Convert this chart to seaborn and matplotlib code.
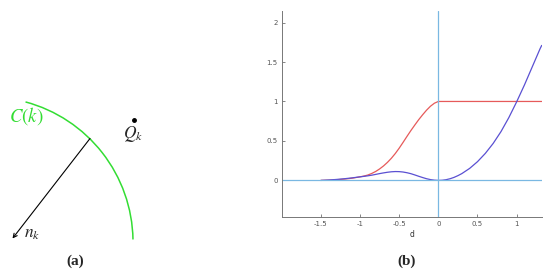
import numpy as np
import pandas as pd
import matplotlib
matplotlib.use("Agg")
import matplotlib.pyplot as plt
import seaborn as sns
from matplotlib.patches import Arc

d = [-1.5, -1.4, -1.3, -1.2, -1.1, -1.0, -0.95, -0.9, -0.85, -0.8, -0.75, -0.7,
     -0.65, -0.6, -0.55, -0.5, -0.45, -0.4, -0.35, -0.3, -0.25, -0.2, -0.15,
     -0.1, -0.05, 0.0, 0.05, 0.1, 0.15, 0.2, 0.25, 0.3, 0.4, 0.5, 0.6, 0.7,
     0.8, 0.9, 1.0, 1.1, 1.2, 1.3, 1.32]
red = [0.0, 0.003, 0.008, 0.016, 0.028, 0.045, 0.055, 0.068, 0.088, 0.113,
       0.145, 0.183, 0.228, 0.28, 0.34, 0.408, 0.482, 0.558, 0.632, 0.702,
       0.77, 0.832, 0.89, 0.94, 0.978, 1.0, 1.0, 1.0, 1.0, 1.0, 1.0, 1.0,
       1.0, 1.0, 1.0, 1.0, 1.0, 1.0, 1.0, 1.0, 1.0, 1.0, 1.0]
blue = [0.0, 0.005, 0.012, 0.021, 0.032, 0.045, 0.051, 0.058, 0.066, 0.076,
        0.086, 0.095, 0.103, 0.109, 0.112, 0.111, 0.106, 0.097, 0.085, 0.069,
        0.052, 0.036, 0.021, 0.010, 0.003, 0.0, 0.002, 0.009, 0.021, 0.038,
        0.06, 0.086, 0.152, 0.237, 0.342, 0.468, 0.618, 0.795, 0.995, 1.21,
        1.44, 1.67, 1.71]

x_ticks = [-1.5, -1, -0.5, 0, 0.5, 1]
x_ticklabels = ["-1.5", "-1", "-0.5", "0", "0.5", "1"]
y_ticks = [0, 0.5, 1, 1.5, 2]
y_ticklabels = ["0", "0.5", "1", "1.5", "2"]

# Skizze (a): Kreisbogen, Normale, Punkt (Pixelkoordinaten)
arc_center = (-12, 242)
arc_radius = 145
arc_theta = (-75, -1)
normal_start = (90, 138.5)
normal_end = (12.5, 238.5)
q_point = (133.5, 119.5)

sns.set_style("white")
plt.rcParams["mathtext.fontset"] = "stix"

fig = plt.figure(figsize=(5.5, 2.75), dpi=100)

#%% Linke Skizze + Bildunterschriften
ax0 = fig.add_axes([0, 0, 1, 1])
ax0.set_xlim(0, 550)
ax0.set_ylim(275, 0)
ax0.axis("off")

green = "#33dd33"
ax0.add_patch(Arc(arc_center, 2 * arc_radius, 2 * arc_radius, theta1=arc_theta[0],
                  theta2=arc_theta[1], color=green, lw=1.1))
ax0.annotate("", xy=normal_end, xytext=normal_start,
             arrowprops=dict(arrowstyle="->", color="black", lw=0.8,
                             shrinkA=0, shrinkB=0, mutation_scale=7))
ax0.plot([q_point[0]], [q_point[1]], "o", color="black", ms=2.5)
ax0.text(9, 116, "$C(k)$", color=green, fontsize=13.5, va="center", ha="left")
ax0.text(123, 134, "$Q_k$", fontsize=12.5, va="center", ha="left")
ax0.text(24, 233, "$n_k$", fontsize=12.5, va="center", ha="left")
ax0.text(75, 261, "(a)", fontsize=11, fontweight="bold", family="Liberation Serif",
         ha="center", va="center")
ax0.text(407, 261, "(b)", fontsize=11, fontweight="bold", family="Liberation Serif",
         ha="center", va="center")

#%% Rechter Plot
ax = fig.add_axes([281.7 / 550, (275 - 216.7) / 275, 260 / 550, 206 / 275])
df = pd.DataFrame({"d": d, "red": red, "blue": blue})
sns.lineplot(data=df, x="d", y="red", ax=ax, color="#e65a5a", lw=0.9)
sns.lineplot(data=df, x="d", y="blue", ax=ax, color="#5a50d2", lw=0.9)
ax.axhline(0, color="#7ab8e2", lw=0.9)
ax.axvline(0, color="#7ab8e2", lw=0.9)

ax.set_xlim(-2.0, 1.32)
ax.set_ylim(-0.46, 2.15)
ax.set_xticks(x_ticks)
ax.set_xticklabels(x_ticklabels)
ax.set_yticks(y_ticks)
ax.set_yticklabels(y_ticklabels)
ax.set_xlabel("d", fontsize=5.5, labelpad=2, color="#333333")
ax.set_ylabel("")
ax.tick_params(direction="in", length=2, width=0.5, labelsize=5, colors="#555555",
               pad=3, left=True, bottom=True)
for s in ["top", "right"]:
    ax.spines[s].set_visible(False)
for s in ["left", "bottom"]:
    ax.spines[s].set_color("#777777")
    ax.spines[s].set_linewidth(0.7)
ax.set_facecolor("none")

fig.savefig("out.png", dpi=100)
